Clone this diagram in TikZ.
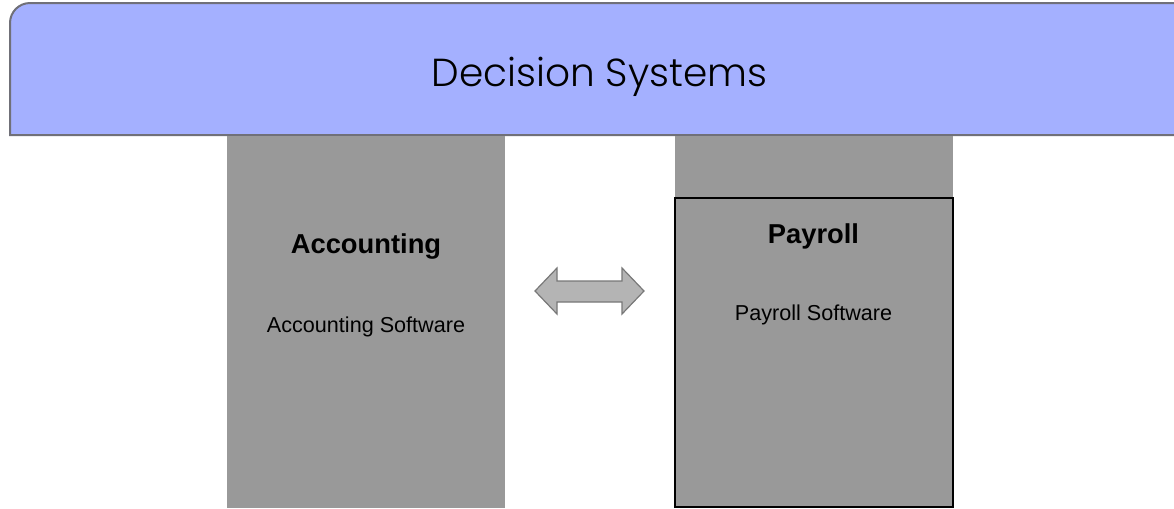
\documentclass[tikz,border=0pt]{standalone}
\usepackage{fontspec}
\setmainfont{Liberation Sans}
\newfontfamily\titlefont{Poppins Light}
\definecolor{bandfill}{RGB}{164,176,255}
\definecolor{bandline}{RGB}{112,112,120}
\definecolor{colfill}{RGB}{153,153,153}
\definecolor{arrfill}{RGB}{180,180,180}
\definecolor{arrline}{RGB}{120,120,120}
\tikzset{
  px/.style={x=0.75pt,y=-0.75pt},
  column/.style={fill=colfill,draw=none,inner sep=0pt},
  headtxt/.style={font=\fontsize{20.5}{24}\selectfont\bfseries,inner sep=0pt,anchor=base},
  subtxt/.style={font=\fontsize{16.2}{19}\selectfont,inner sep=0pt,anchor=base},
  titletxt/.style={font=\titlefont\fontsize{29.3}{34}\selectfont,inner sep=0pt,anchor=base},
}
\begin{document}
\begin{tikzpicture}[px]
\useasboundingbox (0,0) rectangle (1174,508);
\clip (0,0) rectangle (1174,508);
% band
\path[fill=bandfill,draw=bandline,line width=1.5pt]
  (10,135) [rounded corners=15pt] -- (10,3) -- (1195,3) [sharp corners] -- (1195,135) -- cycle;
\node[titletxt] (title) at (599.5,86.5) {Decision Systems};
% accounting column
\path[column] (227,136) rectangle (505,508);
\node[headtxt] (acchead) at (366,253) {Accounting};
\node[subtxt] (accsub) at (366,332) {Accounting Software};
% payroll
\path[column] (675,136) rectangle (953,198);
\path[fill=colfill,draw=black,line width=1.5pt] (674.5,197.5) rectangle (952.5,506.5);
\node[headtxt] (payhead) at (813.5,243) {Payroll};
\node[subtxt] (paysub) at (813.5,320) {Payroll Software};
% double arrow
\path[fill=arrfill,draw=arrline,line width=0.9pt]
  (535,291) -- (557,268) -- (557,281) -- (622,281) -- (622,268) -- (644,291)
  -- (622,314) -- (622,302) -- (557,302) -- (557,314) -- cycle;
\end{tikzpicture}
\end{document}
